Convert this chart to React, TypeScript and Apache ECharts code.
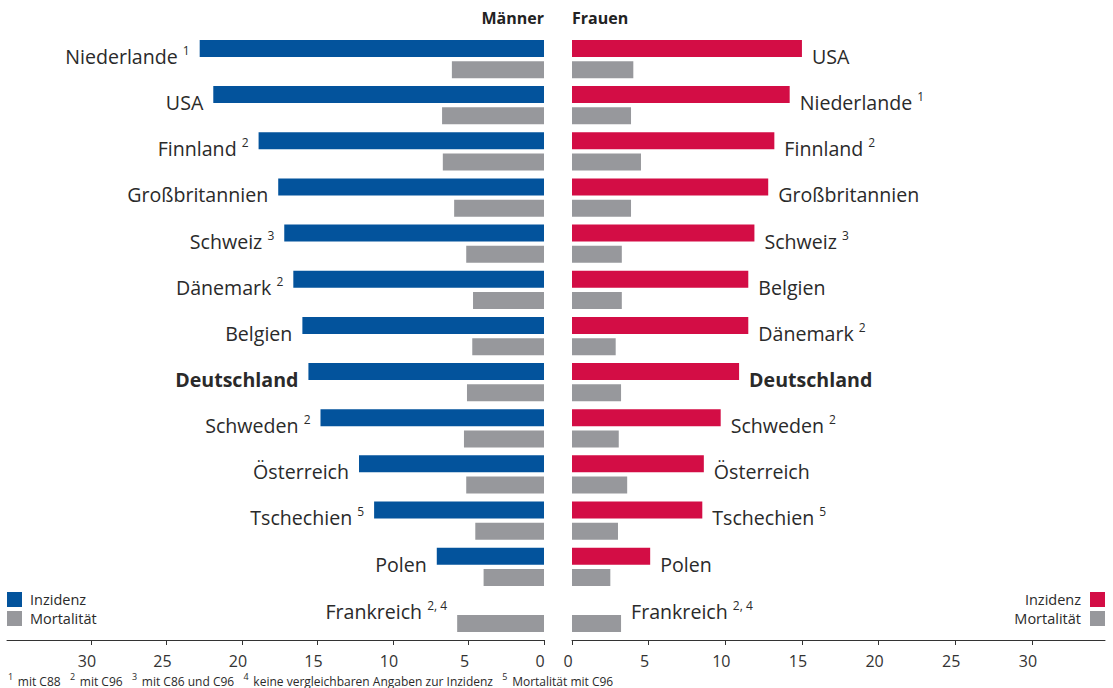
import React, { useEffect, useRef } from "react";
import * as echarts from "echarts";

const menCountries = ["Niederlande", "USA", "Finnland", "Großbritannien", "Schweiz", "Dänemark", "Belgien", "Deutschland", "Schweden", "Österreich", "Tschechien", "Polen", "Frankreich"];
const menNotes = ["1", "", "2", "", "3", "2", "", "", "2", "", "5", "", "2, 4"];
const menIncidence: (number | null)[] = [22.8, 21.9, 18.9, 17.6, 17.2, 16.6, 16.0, 15.6, 14.8, 12.25, 11.25, 7.1, null];
const menMortality = [6.1, 6.75, 6.7, 5.95, 5.15, 4.7, 4.75, 5.1, 5.3, 5.15, 4.55, 4.0, 5.75];

const womenCountries = ["USA", "Niederlande", "Finnland", "Großbritannien", "Schweiz", "Belgien", "Dänemark", "Deutschland", "Schweden", "Österreich", "Tschechien", "Polen", "Frankreich"];
const womenNotes = ["", "1", "2", "", "3", "", "2", "", "2", "", "5", "", "2, 4"];
const womenIncidence: (number | null)[] = [15.0, 14.2, 13.2, 12.8, 11.9, 11.5, 11.5, 10.9, 9.7, 8.6, 8.5, 5.1, null];
const womenMortality = [4.0, 3.85, 4.5, 3.85, 3.25, 3.25, 2.85, 3.2, 3.05, 3.6, 3.0, 2.5, 3.2];

const tickValues = [0, 5, 10, 15, 20, 25, 30];
const legendNames = ["Inzidenz", "Mortalität"];
const footnote = [
  ["1", "mit C88"],
  ["2", "mit C96"],
  ["3", "mit C86 und C96"],
  ["4", "keine vergleichbaren Angaben zur Inzidenz"],
  ["5", "Mortalität mit C96"],
];

const BLUE = "#03539c";
const RED = "#d30d45";
const GRAY = "#97989c";
const TEXT = "#2a2a2a";
const FONT = "'Open Sans', sans-serif";

const rich = {
  n: { fontFamily: FONT, fontSize: 19.6, color: TEXT, lineHeight: 24 },
  b: { fontFamily: FONT, fontSize: 19.6, color: TEXT, lineHeight: 24, fontWeight: "bold" },
  s: { fontFamily: FONT, fontSize: 12, color: TEXT, lineHeight: 20, verticalAlign: "top" },
};

function labelText(name: string, note: string) {
  const st = name === "Deutschland" ? "b" : "n";
  return note ? `{${st}|${name} }{s|${note}}` : `{${st}|${name}}`;
}

export default function App() {
  const ref = useRef<HTMLDivElement>(null);
  useEffect(() => {
    if (!ref.current) return;
    const chart = echarts.init(ref.current, null, { renderer: "svg" });

    const makeAxis = (grid: number, max: number, inverse: boolean) => ({
      gridIndex: grid,
      type: "value",
      min: 0,
      max,
      interval: 5,
      inverse,
      offset: 4,
      axisLine: { show: true, onZero: false, lineStyle: { color: "#333", width: 1 } },
      axisTick: { show: true, length: 5, customValues: tickValues, lineStyle: { color: "#333" } },
      axisLabel: {
        customValues: tickValues,
        fontFamily: FONT,
        fontSize: 16,
        color: "#333",
        margin: 13,
        padding: [0, 8, 0, 0],
      },
      splitLine: { show: false },
    });

    const incData = (vals: (number | null)[]) => vals.map((v) => (v == null ? null : v));
    const mortData = (vals: number[], inc: (number | null)[], names: string[], notes: string[], pos: string) =>
      vals.map((v, i) =>
        inc[i] == null
          ? {
              value: v,
              label: {
                show: true,
                position: pos,
                distance: 10,
                offset: [0, -12],
                formatter: () => labelText(names[i], notes[i]),
                rich,
              },
            }
          : v
      );

    const legendTextL = { fontFamily: FONT, fontSize: 14.5, color: TEXT, padding: [0, 0, 0, 3] };
    const legendTextR = { fontFamily: FONT, fontSize: 14.5, color: TEXT, padding: [0, 4, 0, 0] };

    const option = {
      animation: false,
      textStyle: { fontFamily: FONT },
      title: [
        { text: "Männer", right: 569, top: 10, padding: 0, textStyle: { fontFamily: FONT, fontSize: 16, fontWeight: "bold", color: "#222" } },
        { text: "Frauen", left: 572, top: 10, padding: 0, textStyle: { fontFamily: FONT, fontSize: 16, fontWeight: "bold", color: "#222" } },
        {
          text: footnote.map(([n, t]) => `{s|${n}} {t|${t}}`).join("{t|   }"),
          left: 8,
          top: 672,
          padding: 0,
          textStyle: {
            fontWeight: "normal",
            rich: {
              t: { fontFamily: FONT, fontSize: 12, fontWeight: "normal", color: TEXT, lineHeight: 13 },
              s: { fontFamily: FONT, fontSize: 9, fontWeight: "normal", color: TEXT, lineHeight: 9, verticalAlign: "top" },
            },
          },
        },
      ],
      legend: [
        {
          left: 7,
          top: 592,
          padding: 0,
          orient: "vertical",
          icon: "rect",
          itemWidth: 15,
          itemHeight: 15,
          itemGap: 4,
          selectedMode: false,
          textStyle: legendTextL,
          data: [
            { name: legendNames[0], itemStyle: { color: BLUE } },
            { name: legendNames[1], itemStyle: { color: GRAY } },
          ],
        },
        {
          right: 8,
          top: 592,
          padding: 0,
          orient: "vertical",
          align: "right",
          icon: "rect",
          itemWidth: 15,
          itemHeight: 15,
          selectedMode: false,
          textStyle: legendTextR,
          data: [{ name: legendNames[0], itemStyle: { color: RED } }],
        },
        {
          right: 8,
          top: 611,
          padding: 0,
          orient: "vertical",
          align: "right",
          icon: "rect",
          itemWidth: 15,
          itemHeight: 15,
          selectedMode: false,
          textStyle: legendTextR,
          data: [{ name: legendNames[1], itemStyle: { color: GRAY } }],
        },
      ],
      grid: [
        { left: 7, right: 569, top: 36, bottom: 52 },
        { left: 572, right: 8, top: 36, bottom: 52 },
      ],
      xAxis: [makeAxis(0, 35.56, true), makeAxis(1, 34.77, false)],
      yAxis: [
        { gridIndex: 0, type: "category", data: menCountries, inverse: true, show: false },
        { gridIndex: 1, type: "category", data: womenCountries, inverse: true, show: false },
      ],
      series: [
        {
          name: legendNames[0],
          type: "bar",
          xAxisIndex: 0,
          yAxisIndex: 0,
          barWidth: 17,
          barGap: "25%",
          itemStyle: { color: BLUE },
          label: {
            show: true,
            position: "left",
            distance: 10,
            offset: [0, 8],
            formatter: (p: any) => labelText(menCountries[p.dataIndex], menNotes[p.dataIndex]),
            rich,
          },
          data: incData(menIncidence),
        },
        {
          name: legendNames[1],
          type: "bar",
          xAxisIndex: 0,
          yAxisIndex: 0,
          barWidth: 17,
          barGap: "25%",
          itemStyle: { color: GRAY },
          data: mortData(menMortality, menIncidence, menCountries, menNotes, "left"),
        },
        {
          name: legendNames[0],
          type: "bar",
          xAxisIndex: 1,
          yAxisIndex: 1,
          barWidth: 17,
          barGap: "25%",
          itemStyle: { color: RED },
          label: {
            show: true,
            position: "right",
            distance: 10,
            offset: [0, 8],
            formatter: (p: any) => labelText(womenCountries[p.dataIndex], womenNotes[p.dataIndex]),
            rich,
          },
          data: incData(womenIncidence),
        },
        {
          name: legendNames[1],
          type: "bar",
          xAxisIndex: 1,
          yAxisIndex: 1,
          barWidth: 17,
          barGap: "25%",
          itemStyle: { color: GRAY },
          data: mortData(womenMortality, womenIncidence, womenCountries, womenNotes, "right"),
        },
      ],
    };

    chart.setOption(option as any);
    return () => chart.dispose();
  }, []);

  return <div ref={ref} style={{ width: 1113, height: 688, position: "absolute", left: 0, top: 0 }} />;
}
